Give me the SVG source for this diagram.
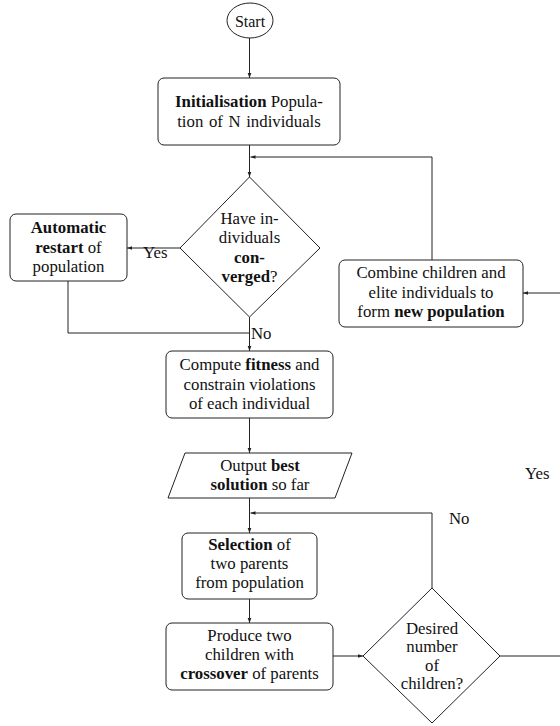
<svg xmlns="http://www.w3.org/2000/svg" width="560" height="726" viewBox="0 0 560 726" font-family="Liberation Serif, serif">
<style>
  text { font-size: 16.8px; fill: #111; text-anchor: middle; }
  .b { font-weight: bold; }
  .lbl { text-anchor: start; }
  .node { fill: #fff; stroke: #222; stroke-width: 1; }
  .edge { fill: none; stroke: #222; stroke-width: 1; }
</style>
<defs>
  <marker id="arr" viewBox="0 0 6 6" refX="6" refY="3" markerWidth="5" markerHeight="5" orient="auto" markerUnits="userSpaceOnUse">
    <path d="M0,0.8 L6,3 L0,5.2 z" fill="#222"/>
  </marker>
</defs>

<g id="connectors">
  <path class="edge" d="M249.5,38 L249.5,78" marker-end="url(#arr)"/>
  <path class="edge" d="M249.5,145 L249.5,177" marker-end="url(#arr)"/>
  <path class="edge" d="M432,260 L432,157 L250.5,157" marker-end="url(#arr)"/>
  <path class="edge" d="M180,248 L127,248" marker-end="url(#arr)"/>
  <path class="edge" d="M68,281 L68,333 L249.5,333"/>
  <path class="edge" d="M249.5,317 L249.5,351" marker-end="url(#arr)"/>
  <path class="edge" d="M249.5,418 L249.5,453" marker-end="url(#arr)"/>
  <path class="edge" d="M249.5,498 L249.5,533" marker-end="url(#arr)"/>
  <path class="edge" d="M432,588 L432,513 L250.5,513" marker-end="url(#arr)"/>
  <path class="edge" d="M249.5,599 L249.5,623" marker-end="url(#arr)"/>
  <path class="edge" d="M333,656 L363,656" marker-end="url(#arr)"/>
  <path class="edge" d="M500,656 L563,656 L563,293 L523,293" marker-end="url(#arr)"/>
  <text class="lbl" x="143" y="258">Yes</text>
  <text class="lbl" x="251" y="339">No</text>
  <text class="lbl" x="525" y="479">Yes</text>
  <text class="lbl" x="449" y="524">No</text>
</g>

<g id="start">
  <ellipse class="node" cx="250" cy="20.5" rx="23" ry="17.5"/>
  <text x="250" y="26.5" style="font-size:16px">Start</text>
</g>

<g id="init">
  <rect class="node" x="158" y="78" width="182" height="67" rx="6"/>
  <text x="249" y="107"><tspan class="b">Initialisation</tspan> Popula-</text>
  <text x="249" y="127" word-spacing="1.4">tion of N individuals</text>
</g>

<g id="converged">
  <polygon class="node" points="249.5,177 320,248 249.5,317 180,248"/>
  <text x="249.5" y="224">Have in-</text>
  <text x="249.5" y="243">dividuals</text>
  <text x="249.5" y="263" class="b">con-</text>
  <text x="249.5" y="282"><tspan class="b">verged</tspan>?</text>
</g>

<g id="restart">
  <rect class="node" x="10" y="214" width="117" height="67" rx="6"/>
  <text x="68.5" y="233" class="b">Automatic</text>
  <text x="68.5" y="253"><tspan class="b">restart</tspan> of</text>
  <text x="68.5" y="272">population</text>
</g>

<g id="combine">
  <rect class="node" x="339" y="260" width="184" height="67" rx="6"/>
  <text x="431" y="278">Combine children and</text>
  <text x="431" y="298">elite individuals to</text>
  <text x="431" y="317">form <tspan class="b">new population</tspan></text>
</g>

<g id="fitness">
  <rect class="node" x="166" y="351" width="167" height="67" rx="6"/>
  <text x="249.5" y="370">Compute <tspan class="b">fitness</tspan> and</text>
  <text x="249.5" y="390">constrain violations</text>
  <text x="249.5" y="409">of each individual</text>
</g>

<g id="output">
  <polygon class="node" points="185,453 352,453 335,498 168,498"/>
  <text x="260" y="471">Output <tspan class="b">best</tspan></text>
  <text x="260" y="490"><tspan class="b">solution</tspan> so far</text>
</g>

<g id="selection">
  <rect class="node" x="182" y="533" width="135" height="66" rx="6"/>
  <text x="249.5" y="550"><tspan class="b">Selection</tspan> of</text>
  <text x="249.5" y="569">two parents</text>
  <text x="249.5" y="588">from population</text>
</g>

<g id="crossover">
  <rect class="node" x="166" y="623" width="167" height="67" rx="6"/>
  <text x="249.5" y="641">Produce two</text>
  <text x="249.5" y="660">children with</text>
  <text x="249.5" y="679"><tspan class="b">crossover</tspan> of parents</text>
</g>

<g id="desired">
  <polygon class="node" points="432,588 500,656 432,723 363,656"/>
  <text x="432" y="634">Desired</text>
  <text x="432" y="652">number</text>
  <text x="432" y="671">of</text>
  <text x="432" y="689">children?</text>
</g>
</svg>
